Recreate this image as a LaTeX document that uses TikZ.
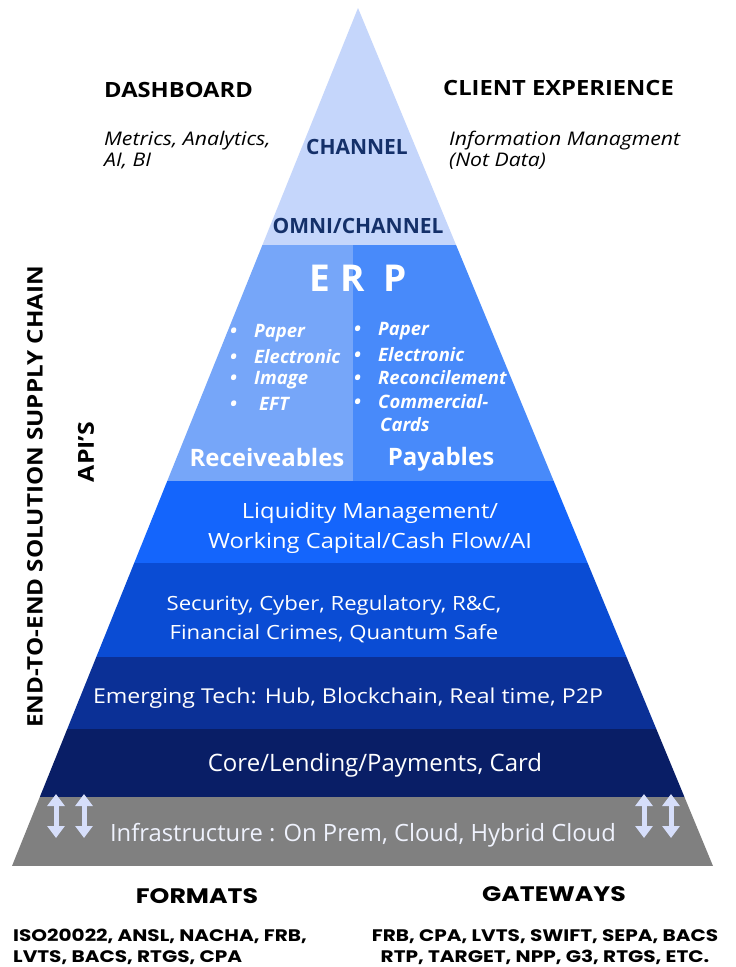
\documentclass[tikz,border=0pt]{standalone}
\usepackage{fontspec}
\setmainfont{Open Sans}
\newfontfamily\widefont{Open Sans}[FakeStretch=1.13]
\newfontfamily\gatefont{Poppins}[FakeStretch=1.2]
\usetikzlibrary{arrows.meta}

\definecolor{tipblue}{RGB}{197,214,251}
\definecolor{recblue}{RGB}{118,166,249}
\definecolor{payblue}{RGB}{72,138,250}
\definecolor{liqblue}{RGB}{20,101,252}
\definecolor{secblue}{RGB}{10,76,212}
\definecolor{emgblue}{RGB}{11,48,150}
\definecolor{coreblue}{RGB}{9,30,102}
\definecolor{infragray}{RGB}{128,128,128}
\definecolor{chantext}{RGB}{20,48,105}
\definecolor{arrowlav}{RGB}{214,222,250}

\tikzset{
	head/.style={font=\widefont\bfseries\fontsize{21}{24}\selectfont, anchor=west, inner sep=0pt},
	note/.style={font=\widefont\itshape\fontsize{18.8}{21}\selectfont, anchor=north west, align=left, inner sep=0pt},
	chan/.style={text=chantext, font=\bfseries\fontsize{21}{24}\selectfont},
	layer/.style={text=white, font=\widefont\fontsize{21}{30}\selectfont, align=center},
	bul/.style={text=white, font=\bfseries\itshape\fontsize{18.5}{22}\selectfont, anchor=west, inner sep=0pt},
	side/.style={font=\widefont\bfseries\fontsize{21.4}{25}\selectfont, rotate=90},
	gate/.style={font=\gatefont\bfseries\fontsize{16.7}{21}\selectfont},
	updown/.style={line width=5pt, arrowlav, {Triangle[width=17pt,length=12pt]}-{Triangle[width=17pt,length=12pt]}},
}

\begin{document}
\begin{tikzpicture}[x=1pt, y=-1pt]
		%%%%% START %%%%%
		\useasboundingbox[fill=white] (0,0) rectangle (736,967);
		
		% pyramid layers, cut to the triangle
		\begin{scope}
			\clip (358,8) -- (713,866) -- (12,866) -- cycle;
			\fill[tipblue] (0,0) rectangle (736,245);
			\fill[recblue] (0,245) rectangle (353,481);
			\fill[payblue] (353,245) rectangle (736,481);
			\fill[liqblue] (0,481) rectangle (736,563);
			\fill[secblue] (0,563) rectangle (736,657);
			\fill[emgblue] (0,657) rectangle (736,729);
			\fill[coreblue] (0,729) rectangle (736,797);
			\fill[infragray] (0,797) rectangle (736,866);
		\end{scope}
		
		% top labels
		\node[head] (dash) at (104,90) {DASHBOARD};
		\node[note] (dashnote) at (104,131) {Metrics, Analytics,\\AI, BI};
		\node[head] (client) at (443,88) {CLIENT EXPERIENCE};
		\node[note] (clientnote) at (449,131) {Information Managment\\(Not Data)};
		
		\node[chan] (channel) at (357,147) {CHANNEL};
		\node[chan] (omni) at (358,226) {OMNI/CHANNEL};
		
		% ERP block
		\node[text=white, font=\bfseries\fontsize{37}{40}\selectfont] (erp) at (358,278) {E\hspace{0.3em}R\hspace{0.5em}P};
		\foreach \t [count=\i] in {Paper,Electronic,Image,\hspace{5pt}EFT}
			\node[bul] (rv\i) at (230,333+23.7*\i-23.7) {\makebox[24pt][l]{\textbullet}\t};
		\foreach \t [count=\i] in {Paper,Electronic,Reconcilement,Commercial-}
			\node[bul] (pv\i) at (354,331+23.5*\i-23.5) {\makebox[24pt][l]{\textbullet}\t};
		\node[bul] (pv5) at (380,425) {Cards};
		\node[text=white, font=\bfseries\fontsize{24}{27}\selectfont] (recv) at (267,457) {Receiveables};
		\node[text=white, font=\bfseries\fontsize{24}{27}\selectfont] (pay) at (441,459) {Payables};
		
		% lower layers
		\node[layer] (liq) at (370,528) {Liquidity Management/\\Working Capital/Cash Flow/AI};
		\node[layer, font=\widefont\fontsize{19.6}{29}\selectfont] (sec) at (334,619) {Security, Cyber, Regulatory, R\&C,\\Financial Crimes, Quantum Safe};
		\node[layer, font=\widefont\fontsize{20.5}{24}\selectfont] (emer) at (348,698) {Emerging Tech: Hub, Blockchain, Real time, P2P};
		\node[layer, font=\fontsize{24}{27}\selectfont] (core) at (375,765) {Core/Lending/Payments, Card};
		\node[layer, text=arrowlav!40!white, font=\fontsize{23.8}{27}\selectfont] (infra) at (363,835) {Infrastructure : On Prem, Cloud, Hybrid Cloud};
		
		\foreach \x [count=\i] in {56,84,644,671} {
			\coordinate (up\i) at (\x,794);
			\coordinate (dn\i) at (\x,838);
			\draw[updown] (up\i) -- (dn\i);
		}
		
		% side labels
		\node[side] (e2e) at (35,497) {END-TO-END SOLUTION SUPPLY CHAIN};
		\node[side, font=\widefont\bfseries\fontsize{22}{25}\selectfont] (apis) at (86,452) {API’S};
		
		% bottom labels
		\node[gate, font=\gatefont\bfseries\fontsize{21}{25}\selectfont] (formats) at (197,896) {FORMATS};
		\node[gate, font=\gatefont\bfseries\fontsize{21}{25}\selectfont] (gateways) at (554,894) {GATEWAYS};
		\node[gate, anchor=west, align=left, inner sep=0pt] (fmtlist) at (13,947) {ISO20022, ANSL, NACHA, FRB,\\LVTS, BACS, RTGS, CPA};
		\node[gate, align=center, inner sep=0pt] (gatelist) at (545,947) {FRB, CPA, LVTS, SWIFT, SEPA, BACS\\RTP, TARGET, NPP, G3, RTGS, ETC.};
		
		%%%%% END %%%%%
	\end{tikzpicture}
\end{document}
